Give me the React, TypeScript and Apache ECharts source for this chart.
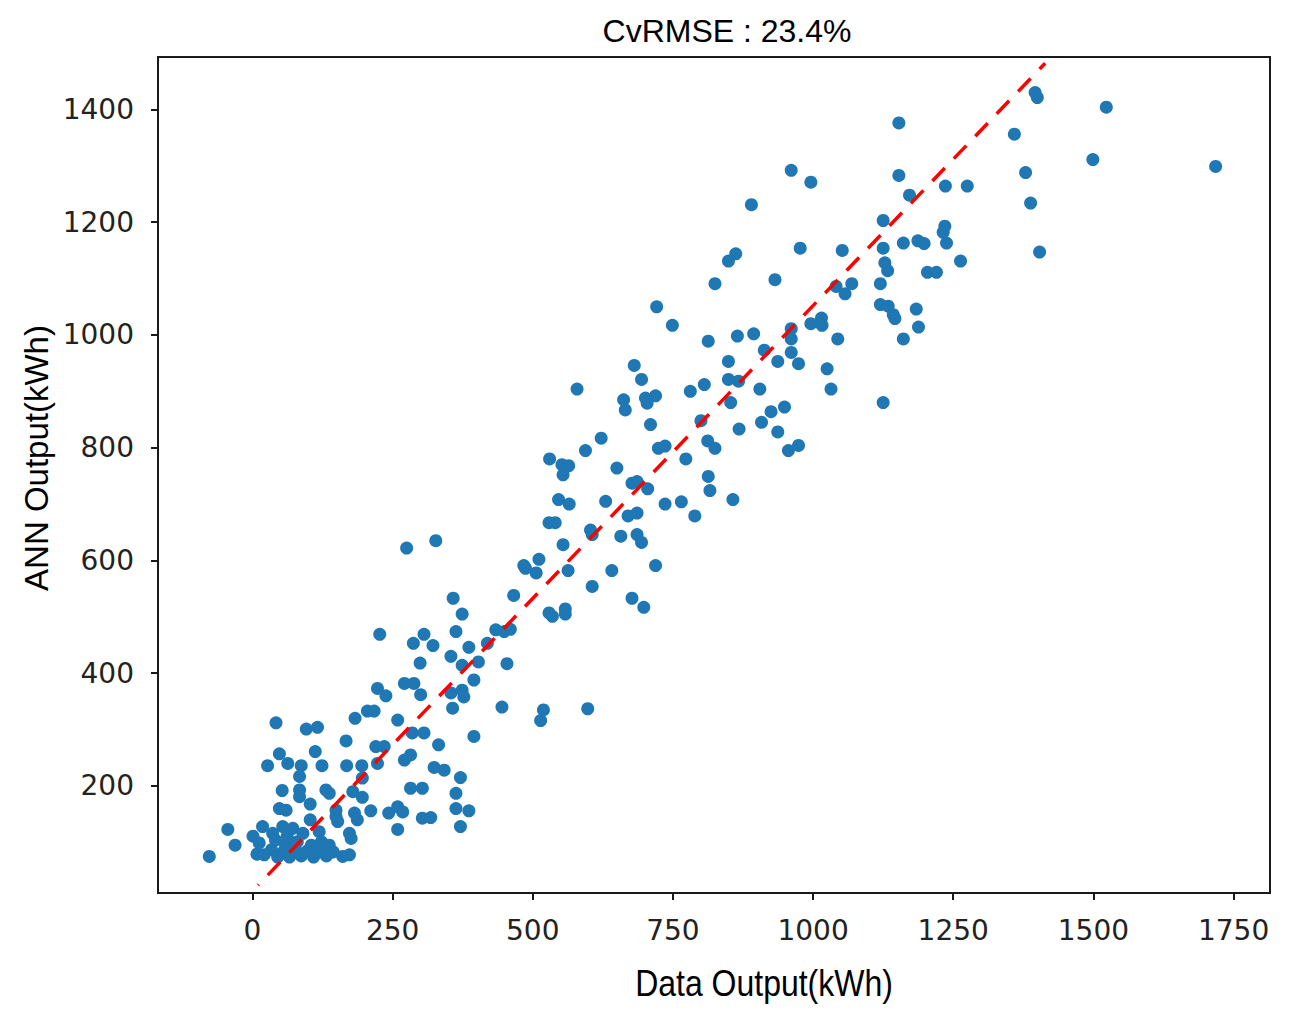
import React, { useEffect, useRef } from "react";
import * as echarts from "echarts";

// Measured data (Data Output kWh) and predicted (ANN Output kWh)
const dataOutput = [
  -77, -44, -31, 1, 8, 18, 36, 42, 48, 48, 53, 27, 63, 60, 87, 84, 84, 84, 96, 116,
  112, 124, 103, 103, 119, 131, 137, 167, 168, 183, 205, 217, 195, 196, 179, 196, 149, 149, 152, 173,
  176, 182, 187, 161, 173, 137, 211, 223, 238, 220, 235, 223, 259, 271, 288, 300, 271, 282, 285, 306,
  282, 303, 243, 259, 268, 259, 303, 318, 324, 342, 332, 357, 354, 374, 395, 371, 363, 363, 386, 371,
  395, 445,
  54, 72, 90, 12, 21, 34, 45, 55, 66, 77, 87, 98, 109, 119, 132, 144, 59, 80, 41, 105, 123, 62,
  275, 327, 358, 374, 227, 306, 363, 287, 322, 386, 434, 419, 354, 374, 403, 299,
  721, 749, 813, 865, 681, 694, 849, 849, 867, 579, 781, 806, 662, 665, 701, 719, 704, 853, 710, 868,
  622, 594, 724, 736, 812, 825, 773, 530, 552, 564, 554, 650, 813, 816, 677, 686, 705, 857, 546, 565,
  630, 736, 765, 789, 529, 540, 670, 686, 603, 606, 657, 686, 694, 554,
  719, 641, 606, 677, 698, 511, 484, 487, 506, 563, 466, 529, 535, 558, 558, 449, 460, 454, 377, 519,
  514, 598,
  890, 849, 862, 825, 977, 932, 1052, 1125, 1125, 1161, 1187, 1198, 1235, 1238, 1128, 1133, 1204, 1220, 1041, 1057,
  1069, 1120, 894, 913, 961, 961, 961, 996, 1015, 1016, 974, 937, 1044, 1025, 1032, 1120, 1134, 1143, 1146, 1184,
  1188, 1161, 1125, 905, 800, 925, 949, 908, 937, 956, 974,
  1396, 1400, 1153, 1359, 961, 996, 1153, 1379, 1388, 1404, 1236, 1275, 1172, 1232, 1263,
  1523, 1499, 1718,
];

const annOutput = [
  75, 123, 95, 111, 79, 128, 116, 312, 257, 160, 192, 236, 240, 157, 236, 217, 193, 181, 301, 304,
  261, 236, 168, 140, 119, 193, 187, 280, 236, 320, 333, 333, 236, 214, 190, 180, 157, 146, 137, 116,
  107, 152, 140, 75, 78, 95, 156, 373, 360, 270, 270, 240, 317, 382, 382, 362, 246, 255, 294, 294,
  196, 196, 152, 163, 154, 123, 143, 144, 233, 228, 273, 338, 365, 370, 288, 215, 187, 160, 156, 128,
  388, 340,
  128, 125, 116, 99, 78, 87, 74, 83, 74, 87, 76, 85, 74, 83, 76, 83, 95, 101, 104, 95, 101, 111,
  622, 635, 533, 505, 469, 469, 474, 453, 449, 446, 477, 453, 430, 414, 420, 418,
  1050, 1017, 989, 998, 946, 921, 953, 921, 918, 904, 900, 912, 885, 867, 888, 892, 879, 880, 841, 833,
  817, 795, 799, 803, 812, 799, 780, 780, 770, 768, 752, 764, 749, 724, 737, 740, 727, 708, 708, 700,
  705, 700, 704, 679, 667, 667, 679, 684, 654, 646, 643, 646, 632, 628,
  591, 582, 554, 533, 517, 602, 591, 586, 578, 582, 538, 507, 501, 514, 505, 474, 478, 417, 358, 335,
  316, 337,
  1231, 1131, 1144, 1091, 1154, 1098, 1150, 1203, 1154, 1163, 1167, 1162, 1193, 1163, 1128, 1114, 1111, 1111, 1086, 1073,
  1091, 1091, 1002, 973, 1011, 993, 969, 1020, 1030, 1017, 949, 953, 993, 940, 904, 1054, 1051, 1036, 1029, 1046,
  1014, 993, 880, 904, 848, 864, 872, 845, 828, 795, 804,
  1430, 1421, 1376, 1356, 1292, 1271, 1283, 1288, 1234, 1147, 1264, 1264, 1248, 1182, 1131,
  1404, 1311, 1299,
];

// Reference (dashed) line end points
const refLineX = [10, 1414];
const refLineY = [24, 1482];

const xTicks = [0, 250, 500, 750, 1000, 1250, 1500, 1750];
const yTicks = [200, 400, 600, 800, 1000, 1200, 1400];

const titleText = "CvRMSE : 23.4%";
const xName = "Data Output(kWh)";
const yName = "ANN Output(kWh)";

export default function App() {
  const ref = useRef<HTMLDivElement>(null);

  useEffect(() => {
    if (!ref.current) return;
    const chart = echarts.init(ref.current, null, { renderer: "svg" });
    const points = dataOutput.map((x, i) => [x, annOutput[i]]);
    const line = refLineX.map((x, i) => [x, refLineY[i]]);
    const axisColor = "#1a1a1a";
    const labelColor = "#222";

    chart.setOption({
      animation: false,
      backgroundColor: "#ffffff",
      grid: {
        left: 158,
        top: 57,
        right: 22,
        bottom: 120,
        show: true,
        borderColor: axisColor,
        borderWidth: 2,
        backgroundColor: "transparent",
      },
      xAxis: {
        type: "value",
        min: -168.5,
        max: 1815,
        axisLine: { show: false, onZero: false },
        splitLine: { show: false },
        axisTick: {
          show: true,
          length: 7,
          customValues: xTicks,
          lineStyle: { color: axisColor, width: 2 },
        },
        axisLabel: {
          customValues: xTicks,
          formatter: (v: number) => String(v),
          fontSize: 28,
          fontFamily: "DejaVu Sans",
          color: labelColor,
          margin: 23,
        },
      },
      yAxis: {
        type: "value",
        min: 10.2,
        max: 1493,
        axisLine: { show: false, onZero: false },
        splitLine: { show: false },
        axisTick: {
          show: true,
          length: 7,
          customValues: yTicks,
          lineStyle: { color: axisColor, width: 2 },
        },
        axisLabel: {
          customValues: yTicks,
          formatter: (v: number) => String(v),
          fontSize: 28,
          fontFamily: "DejaVu Sans",
          color: labelColor,
          margin: 24,
        },
      },
      series: [
        {
          type: "scatter",
          data: points,
          symbol: "circle",
          symbolSize: 13,
          itemStyle: { color: "#1f77b4", opacity: 1 },
          z: 2,
        },
        {
          type: "line",
          data: line,
          symbol: "none",
          lineStyle: {
            color: "#ff0000",
            width: 3.5,
            type: [18, 13],
            dashOffset: 17,
          },
          z: 3,
        },
      ],
      graphic: [
        {
          type: "text",
          x: 727,
          y: 31,
          style: {
            text: titleText,
            font: "32px 'Liberation Sans', Arial, sans-serif",
            fill: "#000",
            textAlign: "center",
            textVerticalAlign: "middle",
          },
        },
        {
          type: "text",
          x: 764,
          y: 983,
          scaleY: 1.15,
          style: {
            text: xName,
            font: "32px 'Liberation Sans', Arial, sans-serif",
            fill: "#000",
            textAlign: "center",
            textVerticalAlign: "middle",
          },
        },
        {
          type: "text",
          x: 36,
          y: 458,
          rotation: Math.PI / 2,
          style: {
            text: yName,
            font: "33px 'Liberation Sans', Arial, sans-serif",
            fill: "#000",
            textAlign: "center",
            textVerticalAlign: "middle",
          },
        },
      ],
    });

    return () => chart.dispose();
  }, []);

  return (
    <div
      ref={ref}
      style={{ position: "fixed", left: 0, top: 0, width: 1292, height: 1013, background: "#fff" }}
    />
  );
}
